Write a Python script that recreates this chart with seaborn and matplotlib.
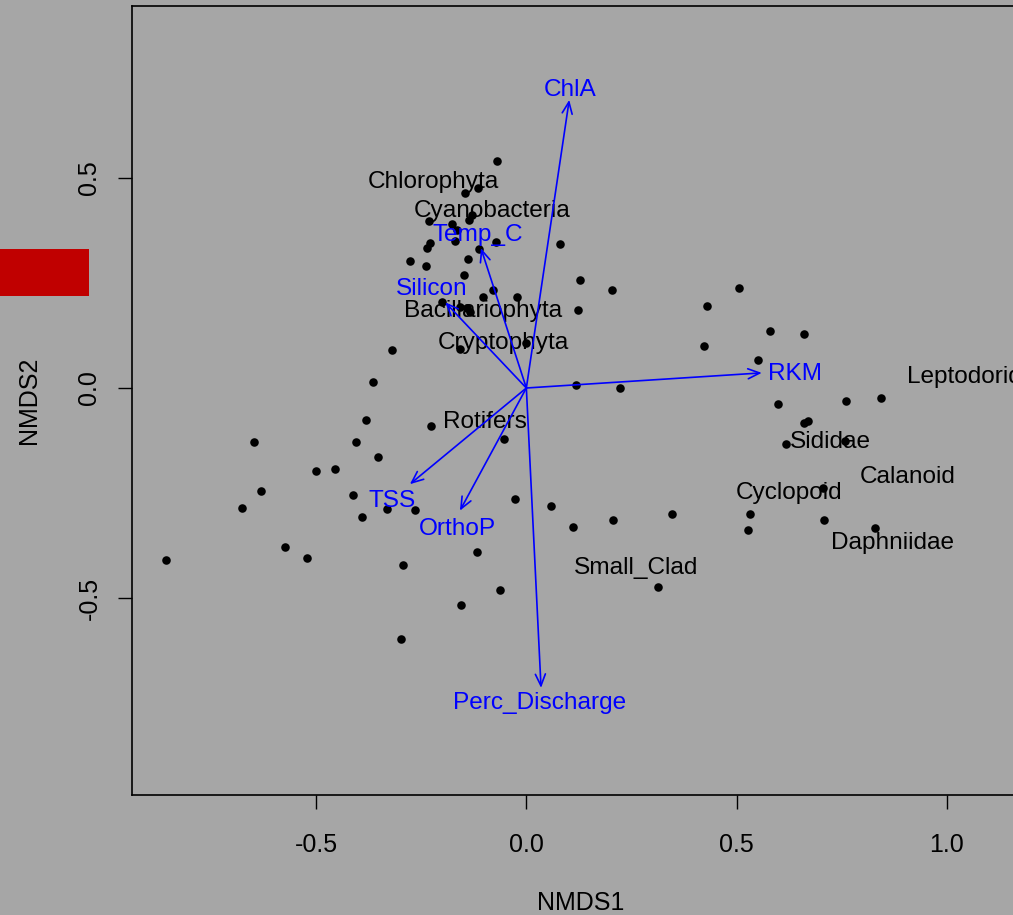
import matplotlib
matplotlib.use("Agg")
import matplotlib.pyplot as plt
from matplotlib.patches import Rectangle
import numpy as np
import pandas as pd
import seaborn as sns

# NMDS site scores
site_x = [-0.070, -0.146, -0.115, -0.231, -0.177, -0.165, -0.136, -0.129, -0.170, -0.072,
          -0.229, -0.236, -0.112, -0.277, -0.239, -0.139, -0.148, -0.080, -0.103, -0.022,
          -0.200, -0.158, -0.141, -0.134, -0.319, -0.159, 0.000, -0.365, 0.081, 0.127,
          0.203, 0.123, -0.381, -0.227, -0.648, -0.405, -0.353, -0.053, -0.500, -0.455,
          -0.631, -0.676, -0.412, -0.331, -0.265, -0.391, -0.027, -0.575, -0.522, -0.857,
          -0.293, -0.117, -0.063, -0.155, -0.298, 0.505, 0.430, 0.580, 0.660, 0.423,
          0.550, 0.117, 0.222, 0.599, 0.761, 0.844, 0.660, 0.670, 0.617, 0.758,
          0.706, 0.059, 0.112, 0.207, 0.346, 0.531, 0.527, 0.708, 0.829, 0.312]
site_y = [0.540, 0.464, 0.476, 0.398, 0.390, 0.376, 0.400, 0.412, 0.350, 0.348,
          0.345, 0.333, 0.331, 0.302, 0.290, 0.307, 0.269, 0.233, 0.217, 0.217,
          0.205, 0.193, 0.190, 0.181, 0.090, 0.094, 0.108, 0.014, 0.344, 0.257,
          0.233, 0.186, -0.076, -0.090, -0.129, -0.129, -0.164, -0.121, -0.198, -0.193,
          -0.246, -0.285, -0.255, -0.288, -0.290, -0.307, -0.264, -0.379, -0.405, -0.410,
          -0.421, -0.390, -0.481, -0.517, -0.598, 0.238, 0.196, 0.136, 0.128, 0.101,
          0.067, 0.007, -0.001, -0.039, -0.031, -0.023, -0.083, -0.078, -0.133, -0.125,
          -0.239, -0.281, -0.330, -0.314, -0.300, -0.300, -0.337, -0.314, -0.333, -0.473]

# Taxon scores (label positions)
taxa = ["Chlorophyta", "Cyanobacteria", "Bacillariophyta", "Cryptophyta", "Rotifers",
        "Leptodoridae", "Sididae", "Calanoid", "Cyclopoid", "Daphniidae", "Small_Clad"]
taxa_x = [-0.222, -0.081, -0.103, -0.055, -0.098, 1.074, 0.724, 0.908, 0.625, 0.872, 0.261]
taxa_y = [0.490, 0.421, 0.183, 0.107, -0.081, 0.026, -0.129, -0.212, -0.250, -0.369, -0.429]

# Fitted environmental vectors
env = ["ChlA", "Temp_C", "Silicon", "RKM", "TSS", "OrthoP", "Perc_Discharge"]
env_x = [0.102, -0.108, -0.193, 0.560, -0.277, -0.158, 0.035]
env_y = [0.686, 0.333, 0.204, 0.036, -0.229, -0.292, -0.714]
env_lab_x = [0.104, -0.115, -0.224, 0.639, -0.320, -0.163, 0.032]
env_lab_y = [0.710, 0.364, 0.236, 0.033, -0.269, -0.336, -0.750]

x_ticks = [-0.5, 0.0, 0.5, 1.0]
y_ticks = [-0.5, 0.0, 0.5]

bg = "#a6a6a6"
sns.set_theme(style="ticks")
plt.rcParams["font.family"] = ["Liberation Sans", "DejaVu Sans"]
plt.rcParams["axes.facecolor"] = bg
plt.rcParams["figure.facecolor"] = bg

W, H = 1013, 915
fig = plt.figure(figsize=(W / 100, H / 100), dpi=100)
ax = fig.add_axes([132 / W, (H - 795) / H, (1030 - 132) / W, (795 - 6) / H])
ax.set_facecolor(bg)

sites = pd.DataFrame({"NMDS1": site_x, "NMDS2": site_y})
sns.scatterplot(data=sites, x="NMDS1", y="NMDS2", ax=ax, color="black",
                s=38, linewidth=0, zorder=3)

for name, x, y in zip(taxa, taxa_x, taxa_y):
    ax.text(x, y, name, color="black", fontsize=17.6, ha="center", va="center",
            zorder=4, clip_on=False)

for name, x, y, lx, ly in zip(env, env_x, env_y, env_lab_x, env_lab_y):
    ax.annotate("", xy=(x, y), xytext=(0, 0),
                arrowprops=dict(arrowstyle="->,head_length=0.7,head_width=0.3",
                                color="#0000ff", lw=1.2, shrinkA=0, shrinkB=0),
                zorder=5)
    ax.text(lx, ly, name, color="#0000ff", fontsize=17.6, ha="center", va="center",
            zorder=6)

ax.set_xlim(-0.938, 1.198)
ax.set_ylim(-0.969, 0.9095)
ax.set_xticks(x_ticks)
ax.set_yticks(y_ticks)
ax.set_xticklabels([f"{v:.1f}" for v in x_ticks])
ax.set_yticklabels([f"{v:.1f}" for v in y_ticks], rotation=90, va="center")
ax.tick_params(axis="both", direction="out", length=10, width=1.0, colors="black",
               labelsize=18)
ax.tick_params(axis="x", pad=17)
ax.tick_params(axis="y", pad=12)
for s in ax.spines.values():
    s.set_visible(True)
    s.set_color("black")
    s.set_linewidth(1.2)

ax.set_xlabel("NMDS1", fontsize=18, color="black", labelpad=25)
ax.set_ylabel("NMDS2", fontsize=18, color="black", labelpad=26)

fig.patches.append(Rectangle((0, 1 - 296 / H), 89 / W, 47 / H, transform=fig.transFigure,
                             facecolor="#c00000", edgecolor="none", zorder=10))

fig.savefig("out.png", dpi=100, facecolor=bg)
